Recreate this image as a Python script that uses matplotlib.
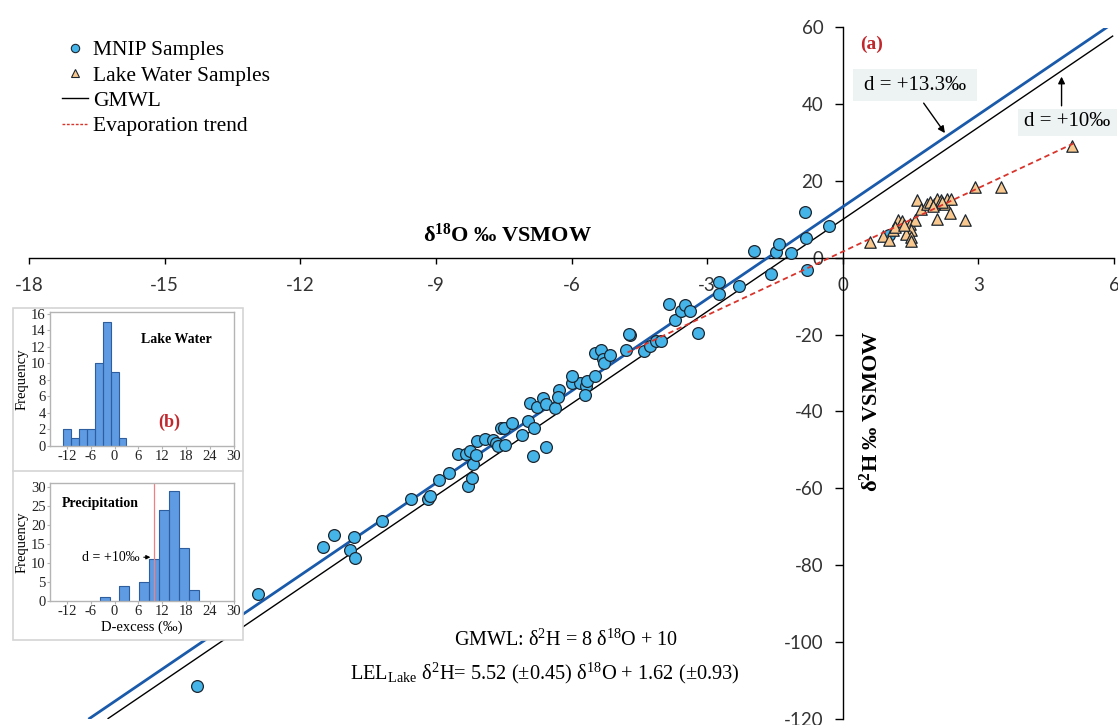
import matplotlib
matplotlib.use("Agg")
import matplotlib.pyplot as plt
from matplotlib.patches import Rectangle
from matplotlib.lines import Line2D

plt.rcParams['font.family'] = ['Liberation Serif', 'DejaVu Serif']
plt.rcParams['mathtext.fontset'] = 'custom'
plt.rcParams['mathtext.rm'] = 'Liberation Serif'
plt.rcParams['mathtext.it'] = 'Liberation Serif:italic'
plt.rcParams['mathtext.bf'] = 'Liberation Serif:bold'
plt.rcParams['axes.unicode_minus'] = False

# ---------------- data ----------------
mnip_d18o = [-14.28, -12.94, -11.50, -11.26, -10.91, -10.81, -10.80, -10.19, -9.54, -9.17,
             -9.12, -8.93, -8.72, -8.29, -8.21, -8.18, -8.51, -8.33, -8.25, -8.12,
             -8.09, -7.92, -7.74, -7.66, -7.63, -7.48, -7.55, -7.50, -7.31, -7.09,
             -6.96, -6.84, -6.85, -6.57, -6.91, -6.76, -6.64, -6.56, -6.36, -6.28,
             -6.30, -5.99, -5.82, -5.69, -5.71, -5.65, -5.98, -5.49, -5.49, -5.34,
             -5.30, -5.29, -5.14, -4.80, -4.71, -4.72, -4.40, -4.27, -4.12, -4.01,
             -3.72, -3.84, -3.57, -3.48, -3.37, -3.20, -2.74, -2.74, -2.30, -1.96,
             -1.58, -1.48, -1.41, -1.15, -0.84, -0.82, -0.79, -0.30, 1.02]
mnip_d2h = [-111.5, -87.6, -75.4, -72.2, -76.0, -72.8, -78.3, -68.5, -62.7, -62.7,
            -62.0, -57.8, -56.0, -59.4, -57.3, -53.8, -51.2, -51.2, -50.3, -51.4,
            -47.7, -47.2, -47.4, -48.3, -49.0, -48.7, -44.4, -44.2, -43.0, -46.2,
            -42.6, -44.4, -51.6, -49.3, -37.9, -38.8, -36.6, -38.2, -39.2, -34.3,
            -36.2, -32.5, -32.7, -33.4, -35.7, -32.1, -30.9, -30.7, -24.8, -23.9,
            -26.3, -27.4, -25.2, -24.1, -20.2, -19.8, -24.3, -23.0, -21.7, -21.7,
            -16.3, -11.9, -13.9, -12.2, -13.9, -19.5, -6.4, -9.5, -7.4, 1.9,
            -4.2, 1.4, 3.7, 1.2, 12.0, 5.2, -3.1, 8.3, 6.0]

lake_d18o = [0.60, 0.89, 1.02, 1.11, 1.22, 1.30, 1.15, 1.45, 1.48, 1.59,
             1.50, 1.41, 1.50, 1.50, 1.64, 1.72, 1.87, 1.94, 2.02, 2.09,
             2.18, 2.09, 2.26, 2.31, 2.40, 2.37, 2.70, 2.92, 3.51, 5.07,
             1.35, 2.20, 2.00]
lake_d2h = [4.0, 5.6, 4.7, 7.3, 9.8, 9.7, 8.0, 6.9, 8.9, 9.8,
            7.3, 6.3, 5.4, 4.3, 15.0, 12.7, 13.9, 14.5, 14.1, 15.4,
            15.0, 10.1, 13.9, 15.4, 15.4, 11.7, 9.9, 18.5, 18.5, 29.1,
            8.5, 14.5, 13.5]

# lines: (slope, intercept, x_start, x_end)
gmwl = (8.0, 10.0, -16.25, 5.97)
lmwl = (8.0, 13.3, -16.66, 5.84)
lel = (5.52, 1.62, -4.76, 5.10)

x_ticks = [-18, -15, -12, -9, -6, -3, 0, 3, 6]
y_ticks = [-120, -100, -80, -60, -40, -20, 0, 20, 40, 60]

# histograms
lake_edges = [-13, -11, -9, -7, -5, -3, -1, 1, 3]
lake_counts = [2, 1, 2, 2, 10, 15, 9, 1]
prec_edges = [-3.75, -1.25, 1.25, 3.75, 6.25, 8.75, 11.25, 13.75, 16.25, 18.75, 21.25]
prec_counts = [1, 0, 4, 0, 5, 11, 24, 29, 14, 3]
hist_xticks = [-12, -6, 0, 6, 12, 18, 24, 30]

# ---------------- colours ----------------
c_circle = '#45B4E8'
c_tri = '#F8C88E'
c_edge = '#1c2630'
c_blue = '#1A5AAA'
c_red = '#D9342B'
c_bar = '#5E9BE3'
c_baredge = '#2F5E9E'

W, H = 1118, 725
fig = plt.figure(figsize=(W / 100, H / 100), dpi=100)

def fx(px):
    return px / W

def fy(py):
    return 1 - py / H

ax = fig.add_axes([fx(29), fy(718.5), 1085 / W, 691 / H])
ax.set_xlim(-18, 6)
ax.set_ylim(-120, 60)
for s in ['top', 'right']:
    ax.spines[s].set_visible(False)
ax.spines['left'].set_position(('data', 0))
ax.spines['bottom'].set_position(('data', 0))
ax.spines['left'].set_linewidth(1.0)
ax.spines['bottom'].set_linewidth(1.0)
ax.set_xticks(x_ticks)
ax.set_yticks(y_ticks)
ax.tick_params(axis='x', direction='out', length=4.5, width=1, pad=9,
               labelsize=13.5, labelcolor='#333333')
ax.tick_params(axis='y', direction='out', length=6, width=1, pad=8,
               labelsize=13.5, labelcolor='#333333')
for lab in ax.get_xticklabels() + ax.get_yticklabels():
    lab.set_fontfamily('Lato')

def draw_line(p, **kw):
    m, b, x0, x1 = p
    ax.plot([x0, x1], [m * x0 + b, m * x1 + b], **kw)

draw_line(gmwl, color='black', lw=1.0, zorder=3)
draw_line(lmwl, color=c_blue, lw=2.0, zorder=3)
draw_line(lel, color=c_red, lw=1.3, ls=(0, (3, 2)), zorder=5)

ax.scatter(mnip_d18o, mnip_d2h, s=72, c=c_circle, edgecolors=c_edge, linewidths=0.9, zorder=4)
ax.scatter(lake_d18o, lake_d2h, s=68, marker='^', c=c_tri, edgecolors=c_edge, linewidths=0.9, zorder=4)

# axis labels
ax.text(-7.41, 5.8, 'δ$^{\\mathbf{18}}$O ‰ VSMOW', fontsize=16, fontweight='bold',
        ha='center', va='center')
ax.text(0.62, -39.9, 'δ$^{\\mathbf{2}}$H ‰ VSMOW', fontsize=16, fontweight='bold',
        ha='center', va='center', rotation=90)

# (a)
ax.text(0.64, 55.7, '(a)', color='#C0282D', fontsize=14, fontweight='bold',
        ha='center', va='center')

# d boxes
ax.add_patch(Rectangle((0.22, 40.9), 2.76, 8.3, fc='#EDF2F2', ec='none', zorder=2))
ax.add_patch(Rectangle((3.87, 31.8), 2.19, 7.0, fc='#EDF2F2', ec='none', zorder=2,
                       clip_on=False))
ax.text(1.59, 45.0, 'd = +13.3‰', fontsize=15, ha='center', va='center', zorder=6)
ax.text(4.97, 35.4, 'd = +10‰', fontsize=15, ha='center', va='center', zorder=6)
ax.annotate('', xy=(2.26, 32.5), xytext=(1.79, 40.3),
            arrowprops=dict(arrowstyle='-|>', color='black', lw=1.0,
                            mutation_scale=10, shrinkA=0, shrinkB=0), zorder=6)
ax.annotate('', xy=(4.84, 47.2), xytext=(4.84, 39.6),
            arrowprops=dict(arrowstyle='-|>', color='black', lw=1.0,
                            mutation_scale=10, shrinkA=0, shrinkB=0), zorder=6)

# equations
ax.text(-6.12, -99.7, 'GMWL: δ$^{2}$H = 8 δ$^{18}$O + 10', fontsize=14.5,
        ha='center', va='center')
ax.text(-10.9, -108.2,
        'LEL$_{\\mathrm{Lake}}$ δ$^{2}$H= 5.52 (±0.45) δ$^{18}$O + 1.62 (±0.93)',
        fontsize=14.7, ha='left', va='center')

# legend
handles = [
    Line2D([], [], ls='none', marker='o', markersize=6, markerfacecolor=c_circle,
           markeredgecolor=c_edge, markeredgewidth=0.8),
    Line2D([], [], ls='none', marker='^', markersize=6, markerfacecolor=c_tri,
           markeredgecolor=c_edge, markeredgewidth=0.8),
    Line2D([], [], color='black', lw=1.0),
    Line2D([], [], color=c_red, lw=1.0, ls=(0, (2, 1.2))),
]
labels = ['MNIP Samples', 'Lake Water Samples', 'GMWL', 'Evaporation trend']
fig.legend(handles, labels, loc='upper left', bbox_to_anchor=(fx(62), fy(40)),
           frameon=False, fontsize=15.5, handlelength=1.2, handletextpad=0.25,
           labelspacing=0.25, borderpad=0, borderaxespad=0)

# ---------------- inset ----------------
box = fig.add_axes([fx(13), fy(640), 230 / W, 332 / H], zorder=2)
box.set_axis_off()
box.add_patch(Rectangle((0, 0), 1, 1, transform=box.transAxes, fc='white',
                        ec='#D4D4D4', lw=1.2, clip_on=False))
box.plot([0, 1], [(640 - 471) / 332] * 2, color='#D4D4D4', lw=1.2,
         transform=box.transAxes, clip_on=False)

def style_hist(h):
    for s in h.spines.values():
        s.set_color('#B4B4B4')
        s.set_linewidth(1.0)
    h.tick_params(length=2, width=0.8, color='#B4B4B4', pad=1, labelsize=10.5,
                  labelcolor='#222222')
    h.set_xlim(-16.2, 30)
    h.set_xticks(hist_xticks)
    h.set_facecolor('white')

h1 = fig.add_axes([fx(50), fy(446), 184 / W, 134 / H], zorder=3)
h1.stairs(lake_counts, lake_edges, fill=True, facecolor=c_bar, edgecolor='none')
for i, c in enumerate(lake_counts):
    h1.add_patch(Rectangle((lake_edges[i], 0), lake_edges[i + 1] - lake_edges[i], c,
                           fc='none', ec=c_baredge, lw=0.8))
style_hist(h1)
h1.set_ylim(0, 16.24)
h1.set_yticks(range(0, 17, 2))
h1.set_ylabel('Frequency', fontsize=10.5, labelpad=2)
h1.text(6.76, 12.85, 'Lake Water', fontsize=10, fontweight='bold', ha='left', va='center')
h1.text(13.75, 2.9, '(b)', fontsize=13, fontweight='bold', color='#C0282D',
        ha='center', va='center')

h2 = fig.add_axes([fx(50), fy(601), 184 / W, 118 / H], zorder=3)
h2.stairs(prec_counts, prec_edges, fill=True, facecolor=c_bar, edgecolor='none')
for i, c in enumerate(prec_counts):
    if c > 0:
        h2.add_patch(Rectangle((prec_edges[i], 0), prec_edges[i + 1] - prec_edges[i], c,
                               fc='none', ec=c_baredge, lw=0.8))
style_hist(h2)
h2.set_ylim(0, 31)
h2.set_yticks(range(0, 31, 5))
h2.axvline(10, color='#F08080', lw=0.9)
h2.set_ylabel('Frequency', fontsize=10.5, labelpad=2)
h2.set_xlabel('D-excess (‰)', fontsize=10.5, labelpad=2)
h2.text(-13.2, 25.7, 'Precipitation', fontsize=10, fontweight='bold', ha='left', va='center')
h2.annotate('d = +10‰', xy=(9.0, 11.5), xytext=(6.3, 11.5), fontsize=10,
            ha='right', va='center',
            arrowprops=dict(arrowstyle='-|>', color='black', lw=0.8,
                            mutation_scale=6, shrinkA=1, shrinkB=0))

fig.savefig('out.png', dpi=100)
